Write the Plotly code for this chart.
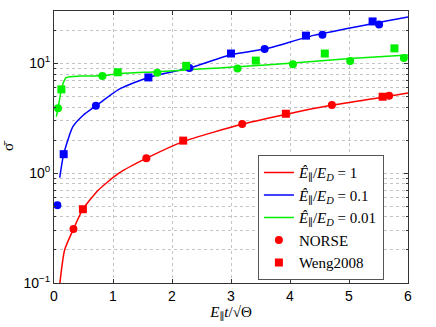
import numpy as np
import plotly.graph_objects as go

# ---- curves (model) ----
red_x = [0.1, 0.18, 0.33, 0.49, 0.75, 1.1, 1.57, 2.2, 3.2, 4.0, 4.7, 5.6, 6.0]
red_y = [0.1, 0.2, 0.31, 0.47, 0.7, 1.0, 1.37, 1.95, 2.8, 3.5, 4.15, 4.95, 5.37]

blue_x = [0.097, 0.164, 0.32, 0.5, 0.71, 1.1, 1.6, 2.3, 3.0, 3.57, 4.4, 5.45, 6.0]
blue_y = [0.91, 1.49, 2.65, 3.39, 4.1, 5.8, 7.45, 9.1, 12.0, 13.5, 18.0, 23.3, 26.5]

green_x = [0.04, 0.068, 0.125, 0.16, 0.21, 0.44, 0.81, 1.08, 1.75, 2.47, 3.11, 4.05, 5.02, 6.0]
green_y = [3.27, 3.9, 5.8, 6.7, 7.45, 7.67, 7.7, 8.05, 8.4, 8.87, 9.3, 10.1, 11.1, 11.9]

# ---- NORSE (circles) ----
red_norse_x = [0.33, 1.565, 3.19, 4.71, 5.68]
red_norse_y = [0.31, 1.37, 2.81, 4.18, 5.07]
blue_norse_x = [0.057, 0.71, 2.295, 3.57, 4.55, 5.51]
blue_norse_y = [0.51, 4.12, 9.06, 13.5, 18.2, 22.6]
green_norse_x = [0.068, 0.82, 1.75, 3.11, 4.05, 5.02, 5.93]
green_norse_y = [3.9, 7.67, 8.2, 9.0, 9.8, 10.5, 11.2]

# ---- Weng2008 (squares) ----
red_weng_x = [0.49, 2.19, 3.93, 5.57]
red_weng_y = [0.47, 1.98, 3.48, 4.97]
blue_weng_x = [0.164, 1.6, 3.0, 4.27, 5.4]
blue_weng_y = [1.49, 7.45, 12.3, 17.9, 24.1]
green_weng_x = [0.125, 1.08, 2.24, 3.42, 4.59, 5.77]
green_weng_y = [5.8, 8.3, 9.5, 10.6, 12.3, 13.7]

# y tick labels
y_tickvals = [0.1, 1, 10]
y_ticktext = ["10<sup>−1</sup>", "10<sup>0</sup>", "10<sup>1</sup>"]

RED, BLUE, GREEN = "#ff0000", "#0000ff", "#00f000"
SERIF = "Liberation Serif, DejaVu Serif, serif"

fig = go.Figure()

curves = [
    (red_x, red_y, RED, "<i>Ê</i><sub>∥</sub>/<i>E</i><sub><i>D</i></sub> = 1"),
    (blue_x, blue_y, BLUE, "<i>Ê</i><sub>∥</sub>/<i>E</i><sub><i>D</i></sub> = 0.1"),
    (green_x, green_y, GREEN, "<i>Ê</i><sub>∥</sub>/<i>E</i><sub><i>D</i></sub> = 0.01"),
]
for x, y, c, name in curves:
    fig.add_trace(go.Scatter(x=x, y=y, mode="lines", name=name,
                             line=dict(color=c, width=1.5, shape="spline", smoothing=0.6)))

points = [
    (red_norse_x, red_norse_y, RED, "circle"),
    (blue_norse_x, blue_norse_y, BLUE, "circle"),
    (green_norse_x, green_norse_y, GREEN, "circle"),
    (red_weng_x, red_weng_y, RED, "square"),
    (blue_weng_x, blue_weng_y, BLUE, "square"),
    (green_weng_x, green_weng_y, GREEN, "square"),
]
for x, y, c, sym in points:
    fig.add_trace(go.Scatter(x=x, y=y, mode="markers", showlegend=False,
                             marker=dict(color=c, symbol=sym, size=8)))

# legend-only marker entries
fig.add_trace(go.Scatter(x=[None], y=[None], mode="markers", name="NORSE",
                         marker=dict(color=RED, symbol="circle", size=8)))
fig.add_trace(go.Scatter(x=[None], y=[None], mode="markers", name="Weng2008",
                         marker=dict(color=RED, symbol="square", size=8)))

minor_vals = [m * 10.0 ** e for e in (-1, 0, 1) for m in range(2, 10) if m * 10.0 ** e <= 30]

fig.update_layout(
    width=436, height=327,
    margin=dict(l=54, r=28, t=11, b=44),
    paper_bgcolor="white", plot_bgcolor="white",
    font=dict(family="Liberation Sans, Arial, sans-serif", size=14, color="black"),
    showlegend=True,
    legend=dict(x=0.576, y=0.47, xanchor="left", yanchor="top",
                bgcolor="white", bordercolor="#555555", borderwidth=1,
                font=dict(family=SERIF, size=15), tracegroupgap=0,
                itemwidth=30),
)
fig.update_xaxes(
    range=[0, 6], dtick=1, showline=True, linecolor="#333333", linewidth=1, mirror="ticks",
    ticks="inside", ticklen=4, tickcolor="#333333", automargin=False,
    showgrid=True, gridcolor="#c4c4c4", griddash="dot", gridwidth=1, zeroline=False,
    title=dict(text="<i>E</i><sub>∥</sub><i>t</i>/√Θ", font=dict(family=SERIF, size=15), standoff=2),
)
fig.update_yaxes(
    type="log", range=[-1, np.log10(30)], tickvals=y_tickvals, ticktext=y_ticktext,
    showline=True, linecolor="#333333", linewidth=1, mirror="ticks",
    ticks="inside", ticklen=4, tickcolor="#333333", automargin=False,
    showgrid=True, gridcolor="#c4c4c4", griddash="dot", gridwidth=1, zeroline=False,
    minor=dict(tickvals=minor_vals, ticks="inside", ticklen=2, tickcolor="#333333",
               showgrid=True, gridcolor="#c4c4c4", griddash="dot", gridwidth=1),
    title=dict(text="σ̄", font=dict(family=SERIF, size=15), standoff=10),
)

# drop the browser's default 8px body margin so the figure sits at the page corner
fig.write_html("out.html", config={"displayModeBar": False},
               post_script="document.body.style.margin = '0';")
